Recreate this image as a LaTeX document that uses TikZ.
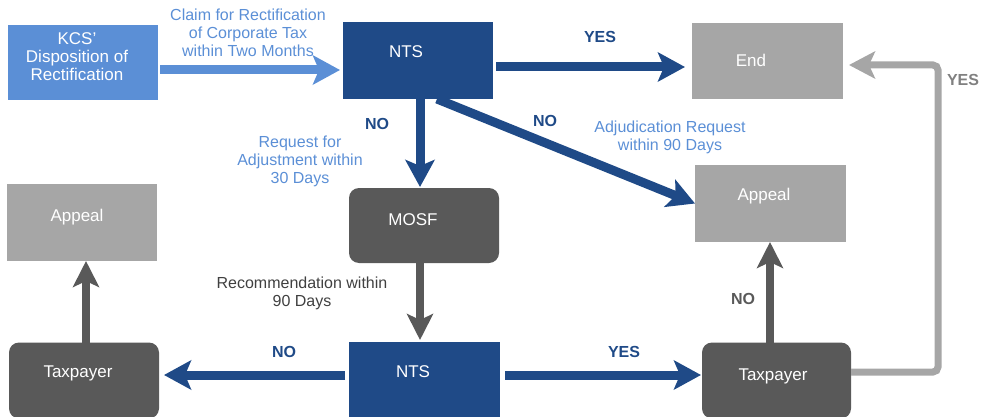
\documentclass[tikz,border=0pt]{standalone}
\usepackage{fontspec}
\setmainfont{Liberation Sans}
\usetikzlibrary{arrows.meta}
\definecolor{lblue}{HTML}{5B8FD6}
\definecolor{dblue}{HTML}{1F4A87}
\definecolor{dgray}{HTML}{595959}
\definecolor{lgray}{HTML}{A6A6A6}
\definecolor{tgray}{HTML}{404040}
\definecolor{ygray}{HTML}{808080}
\tikzset{
  box/.style={draw=none, minimum width=150pt, minimum height=76pt, inner sep=0pt, outer sep=0pt},
  rbox/.style={box, rounded corners=10pt},
  btext/.style={text=white, font=\fontsize{17}{18}\selectfont, align=center},
  lbl/.style={font=\fontsize{16}{18}\selectfont, align=center, inner sep=0pt},
  yn/.style={font=\fontsize{16}{18}\selectfont\bfseries, inner sep=0pt},
  arr/.style={line width=9pt, -{Stealth[length=27pt, width=29pt, inset=6pt]}},
  garr/.style={line width=8pt, draw=dgray, -{Stealth[length=26pt, width=26pt, inset=6pt]}},
}
\begin{document}
\begin{tikzpicture}[x=1pt, y=-1pt]
\useasboundingbox (0,0) rectangle (982,417);
% boxes
\node[box, fill=lblue, minimum height=75pt, label={[btext, xshift=-6pt, yshift=6pt]center:KCS'\\Disposition of\\Rectification}] (kcs) at (83,62.5) {};
\node[box, fill=dblue, minimum height=77pt, label={[btext, xshift=-12pt, yshift=8.5pt]center:NTS}] (nts1) at (418,60.5) {};
\node[box, fill=lgray, minimum width=151pt, label={[btext, xshift=-16.5pt, yshift=1pt]center:End}] (end) at (767.5,61) {};
\node[box, fill=lgray, minimum width=151pt, minimum height=77pt, label={[btext, xshift=-6.5pt, yshift=7.5pt]center:Appeal}] (appR) at (770.5,203.5) {};
\node[box, fill=lgray, minimum height=77pt, label={[btext, xshift=-5pt, yshift=5.5pt]center:Appeal}] (appL) at (82,222.5) {};
\node[rbox, fill=dgray, minimum height=75pt, label={[btext, xshift=-11pt, yshift=5.5pt]center:MOSF}] (mosf) at (424,225.5) {};
\node[box, fill=dblue, minimum width=151pt, label={[btext, xshift=-11.5pt, yshift=8pt]center:NTS}] (nts2) at (424.5,380) {};
\node[rbox, fill=dgray, label={[btext, xshift=-6pt, yshift=7.5pt]center:Taxpayer}] (tpL) at (84,380.5) {};
\node[rbox, fill=dgray, minimum width=149pt, label={[btext, xshift=-3.5pt, yshift=4.5pt]center:Taxpayer}] (tpR) at (776.5,380.5) {};
% arrows
\draw[arr, draw=lblue] ([xshift=2pt, yshift=-7.5pt]kcs.east) -- ([xshift=-3pt, yshift=-9.5pt]nts1.west);
\draw[arr, draw=dblue] ([xshift=3pt, yshift=-6.5pt]nts1.east) -- ([xshift=-7pt, yshift=-6pt]end.west);
\draw[arr, draw=dblue] ([xshift=19pt]nts1.south) -- (appR.west);
\draw[arr, draw=dblue] ([xshift=2pt]nts1.south) -- ([xshift=-4pt, yshift=1pt]mosf.north);
\draw[garr] ([xshift=-4pt]mosf.south) -- ([xshift=-4.5pt, yshift=2pt]nts2.north);
\draw[arr, draw=dblue] ([xshift=-4pt, yshift=5pt]nts2.west) -- ([xshift=5pt, yshift=5.5pt]tpL.east);
\draw[arr, draw=dblue] ([xshift=5pt, yshift=5pt]nts2.east) -- ([xshift=-1pt, yshift=5.5pt]tpR.west);
\draw[garr] ([xshift=2pt]tpL.north) -- ([xshift=4pt]appL.south);
\draw[garr] ([xshift=-6.5pt]tpR.north) -- ([xshift=-0.5pt]appR.south);
\coordinate (g1) at ([yshift=8.5pt]tpR.east);
\coordinate (g2) at ([xshift=6pt, yshift=-4pt]end.east);
\coordinate (gx) at (938,0);
\draw[line width=7pt, draw=lgray, rounded corners=5pt, -{Stealth[length=26pt, width=27pt, inset=6pt]}] (g1) -- (g1 -| gx) |- (g2);
% labels
\node[lbl, text=lblue] (l1) at (248,33) {Claim for Rectification\\of Corporate Tax\\within Two Months};
\node[yn, text=dblue] (y1) at (600,37) {YES};
\node[yn, text=dblue] (n1) at (545,121) {NO};
\node[lbl, text=lblue] (l2) at (670,137) {Adjudication Request\\within 90 Days};
\node[yn, text=dblue] (n2) at (377,124) {NO};
\node[lbl, text=lblue] (l3) at (300,161) {Request for\\Adjustment within\\30 Days};
\node[lbl, text=tgray] (l4) at (302,293) {Recommendation within\\90 Days};
\node[yn, text=dblue] (n3) at (284,352) {NO};
\node[yn, text=dblue] (y2) at (624,352) {YES};
\node[yn, text=dgray] (n4) at (743,299) {NO};
\node[yn, text=ygray] (y3) at (963,80) {YES};
\end{tikzpicture}
\end{document}
